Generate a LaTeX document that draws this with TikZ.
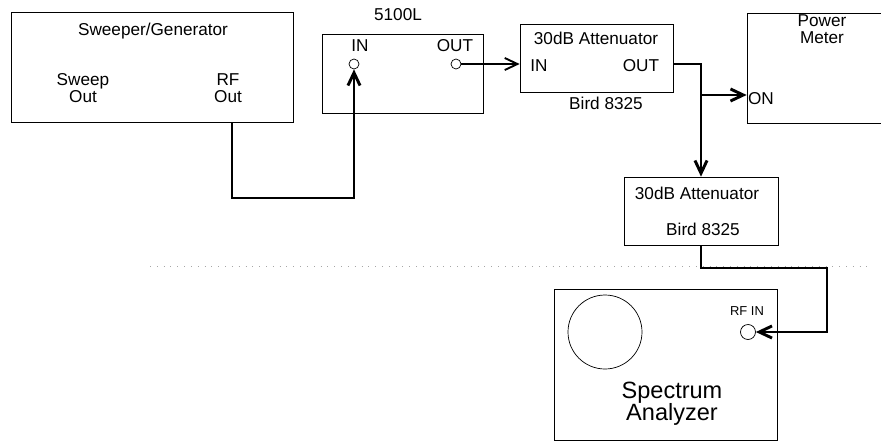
\documentclass[tikz,border=0pt]{standalone}
\usepackage{fontspec}
\setmainfont{Liberation Sans}
\usetikzlibrary{arrows.meta,calc}

\newcommand{\pxu}{0.85pt}

\begin{document}
\begin{tikzpicture}[>={Straight Barb[length=3.8mm,width=3.6mm]},x=0.85pt,y=-0.85pt,
    box/.style={draw,line width=0.6pt,inner sep=0pt},
    port/.style={draw,circle,line width=0.6pt,inner sep=0pt,minimum size=10*\pxu},
    wire/.style={line width=2.5pt},
    thinwire/.style={line width=1.6pt},
    lbl/.style={font=\fontsize{14.6}{14.5}\selectfont,align=center,inner sep=0pt}]
    \useasboundingbox (0,0) rectangle (881,443);
    % scan line
    \draw[gray!70,line width=0.5pt,dash pattern=on 0.8pt off 5pt] (150,266) -- (870,266);
    % sweeper / generator
    \node[box,minimum width=282*\pxu,minimum height=110*\pxu] (gen) at (152,67) {};
    \node[lbl] (gentitle) at (153,31) {Sweeper/Generator};
    \node[lbl] (sweepout) at (83,88) {Sweep\\Out};
    \node[lbl] (rfout) at (228,88) {RF\\Out};
    \coordinate (rfo) at (232,122);
    % device under test
    \node[box,minimum width=161*\pxu,minimum height=79*\pxu] (dut) at (402.5,73.5) {};
    \node[lbl] (dutname) at (398,15) {5100L};
    \node[lbl] (dutinlbl) at (360,46) {IN};
    \node[lbl] (dutoutlbl) at (455,46) {OUT};
    \node[port] (dutin) at (354,64) {};
    \node[port] (dutout) at (456,64) {};
    % first attenuator
    \node[box,minimum width=153*\pxu,minimum height=68*\pxu] (att1) at (596.5,58) {};
    \node[lbl] (att1title) at (596,38) {30dB Attenuator};
    \node[lbl] (att1inlbl) at (539,66) {IN};
    \node[lbl] (att1outlbl) at (641,66) {OUT};
    \node[lbl] (att1type) at (606,103) {Bird 8325};
    % power meter
    \node[box,minimum width=153*\pxu,minimum height=110*\pxu] (pm) at (823.5,68) {};
    \node[lbl] (pmtitle) at (822,29) {Power\\Meter};
    \node[lbl] (pmon) at (761,99) {ON};
    % second attenuator
    \node[box,minimum width=154*\pxu,minimum height=68*\pxu] (att2) at (701,211) {};
    \node[lbl] (att2title) at (697,193) {30dB Attenuator};
    \node[lbl] (att2type) at (703,229) {Bird 8325};
    % spectrum analyzer
    \node[box,minimum width=223*\pxu,minimum height=151*\pxu] (sa) at (665.5,364.5) {};
    \node[draw,circle,line width=0.6pt,minimum size=74*\pxu] (screen) at (605,332) {};
    \node[lbl,font=\fontsize{11}{11}\selectfont] (rfinlbl) at (747,311) {RF IN};
    \node[port,minimum size=15*\pxu] (rfin) at (748,332) {};
    \node[lbl,font=\fontsize{20}{19}\selectfont] (saname) at (672,404) {Spectrum\\Analyzer};
    % cables
    \coordinate (tee) at (701,95);
    \coordinate (bend) at (827,268);
    \draw[wire,->] (rfo) -- ++(0,76) -| (dutin.south);
    \draw[thinwire,->] (dutout.east) -- (dutout.east -| att1.west);
    \draw[wire,->] (att1.east |- dutout) -| (tee) -- (att2.north);
    \draw[wire,->] (tee) -- (tee -| pm.west);
    \draw[wire,->] (att2.south) |- (bend) |- (rfin.east);
\end{tikzpicture}
\end{document}
